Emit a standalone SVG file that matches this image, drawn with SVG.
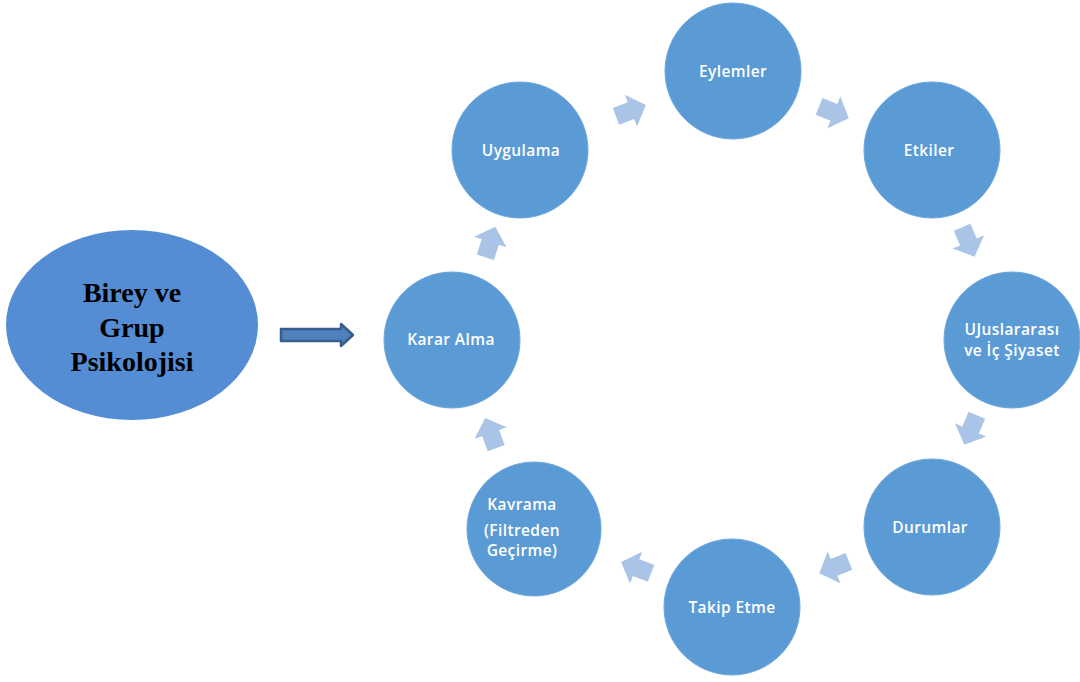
<svg xmlns="http://www.w3.org/2000/svg" width="1080" height="682" viewBox="0 0 1080 682">
<defs>
<style>
.c{fill:#5b9bd5;stroke:#6fa8dc;stroke-width:1}
.t{fill:#ffffff;font-family:"Open Sans","Liberation Sans",sans-serif;font-weight:600;font-size:15.5px;letter-spacing:0.4px;text-anchor:middle}
.b{fill:#000000;font-family:"Liberation Serif",serif;font-weight:bold;font-size:28px;text-anchor:middle}
.a{fill:#a9c4e6}
</style>
<path id="ar" d="M-15,-9 L1,-9 L1,-17 L17,0 L1,17 L1,9 L-15,9 Z"/>
</defs>
<rect width="1080" height="682" fill="#ffffff"/>
<g id="birey">
<ellipse cx="132" cy="325" rx="126" ry="95" fill="#548dd4"/>
<text class="b" x="132" y="302">Birey ve</text>
<text class="b" x="132" y="337">Grup</text>
<text class="b" x="132" y="371">Psikolojisi</text>
</g>
<g id="connectors">
<path d="M281,329 L341,329 L341,324 L353,335 L341,346 L341,341 L281,341 Z" fill="#4f81bd" stroke="#385d8a" stroke-width="2.5" stroke-linejoin="round"/>
<use href="#ar" class="a" transform="translate(490,243) rotate(-72)"/>
<use href="#ar" class="a" transform="translate(630,111) rotate(-21)"/>
<use href="#ar" class="a" transform="translate(833,112) rotate(22)"/>
<use href="#ar" class="a" transform="translate(968,241) rotate(67)"/>
<use href="#ar" class="a" transform="translate(971,429) rotate(113)"/>
<use href="#ar" class="a" transform="translate(835,567) rotate(158)"/>
<use href="#ar" class="a" transform="translate(637,568) rotate(-159)"/>
<use href="#ar" class="a" transform="translate(491,434) rotate(-110)"/>
</g>
<g id="karar"><circle class="c" cx="452" cy="340" r="68"/><text class="t" x="451" y="345">Karar Alma</text></g>
<g id="uygulama"><circle class="c" cx="520" cy="150" r="68"/><text class="t" x="521" y="156">Uygulama</text></g>
<g id="eylemler"><circle class="c" cx="733" cy="71" r="68"/><text class="t" x="733" y="77">Eylemler</text></g>
<g id="etkiler"><circle class="c" cx="932" cy="150" r="68"/><text class="t" x="929" y="156">Etkiler</text></g>
<g id="uluslararasi"><circle class="c" cx="1012" cy="340" r="68"/><text class="t" x="1012" y="335">UJuslararası</text><text class="t" x="1012" y="356">ve İç Şiyaset</text></g>
<g id="durumlar"><circle class="c" cx="932" cy="527" r="68"/><text class="t" x="930" y="533">Durumlar</text></g>
<g id="takip"><circle class="c" cx="732" cy="607" r="68"/><text class="t" x="732" y="613">Takip Etme</text></g>
<g id="kavrama"><circle class="c" cx="534" cy="529" r="67"/><text class="t" x="522" y="510">Kavrama</text><text class="t" x="522" y="536">(Filtreden</text><text class="t" x="522" y="556">Geçirme)</text></g>
</svg>
